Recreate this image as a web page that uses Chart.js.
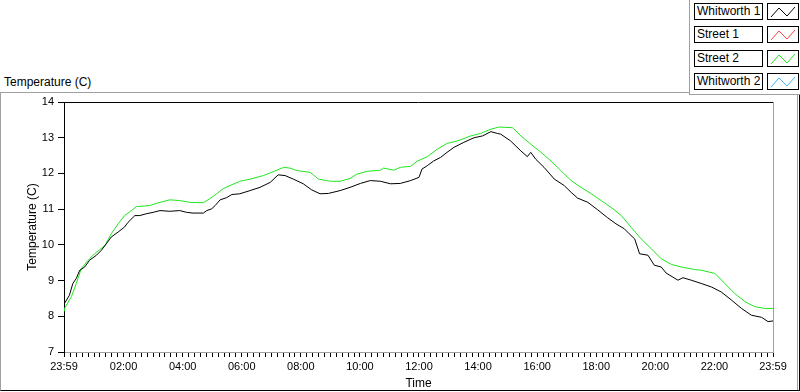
<!DOCTYPE html>
<html>
<head>
<meta charset="utf-8">
<script src="https://cdn.jsdelivr.net/npm/chart.js"></script>
<style>
  body { margin: 0; width: 800px; height: 392px; overflow: hidden; background: #fff; position: relative; font-family: "Liberation Sans", Arial, sans-serif; }
  .frame { position: absolute; left: 0; top: 92px; width: 800px; height: 299px; box-sizing: border-box;
           border-top: 1px solid #a0a0a0; border-left: 1px solid #a0a0a0; border-right: 1px solid #000; border-bottom: 1px solid #000; }
  .frame-inner { position: absolute; left: 797px; top: 95px; width: 1px; height: 295px; background: #a0a0a0; }
  .graph-title { position: absolute; left: 4px; top: 75px; font-size: 12px; line-height: 14px; color: #000; }
  .legend { position: absolute; left: 689px; top: 0; width: 111px; height: 95px; box-sizing: border-box; background: #fff;
            border-left: 1px solid #a0a0a0; border-bottom: 1px solid #a0a0a0; z-index: 2; }
  .legend .name { position: absolute; left: 4px; width: 69px; height: 17px; box-sizing: border-box; border: 1px solid #000;
                  font-size: 12px; line-height: 15px; padding-left: 2px; background: #fff; white-space: nowrap; }
  .legend svg { position: absolute; left: 77px; width: 32px; height: 17px; box-sizing: border-box; border: 1px solid #000; background: #fff; }
  canvas { position: absolute; left: 0; top: 0; z-index: 1; }
</style>
</head>
<body>
<div class="frame"></div>
<div class="frame-inner"></div>
<div class="graph-title">Temperature (C)</div>
<div class="legend" id="legend"></div>
<canvas id="tempChart" width="800" height="392"></canvas>
<script>
// series names and colours, in legend order
const seriesNames = ['Whitworth 1', 'Street 1', 'Street 2', 'Whitworth 2'];
const seriesColors = ['#000000', '#ff4040', '#1ee61e', '#3cb4ff'];

// time in minutes after midnight (-1 = 23:59 the day before)
const whitworth1Minutes = [-1,0,10,17,24,31,41,51,65,75,85,95,109,122,129,143,153,166,180,194,214,234,248,261,282,289,299,306,316,329,340,356,377,397,418,434,448,465,485,502,519,536,560,580,601,621,642,662,682,703,720,726,737,750,764,777,791,811,832,849,866,879,886,906,927,940,947,957,974,995,1015,1029,1042,1063,1083,1103,1120,1137,1147,1158,1168,1185,1198,1212,1222,1246,1256,1273,1293,1314,1334,1355,1375,1395,1416,1429,1439];
const whitworth1Temps = [8.31,8.36,8.59,8.92,9.06,9.29,9.38,9.57,9.71,9.85,10.03,10.22,10.36,10.50,10.63,10.82,10.82,10.87,10.91,10.96,10.94,10.96,10.91,10.89,10.89,10.96,11.01,11.10,11.26,11.32,11.41,11.43,11.52,11.61,11.75,11.96,11.94,11.84,11.71,11.54,11.43,11.44,11.52,11.61,11.72,11.80,11.78,11.71,11.72,11.80,11.89,12.12,12.22,12.35,12.45,12.59,12.73,12.87,13.00,13.05,13.17,13.12,13.10,12.91,12.63,12.47,12.59,12.40,12.17,11.84,11.66,11.47,11.31,11.19,10.98,10.76,10.59,10.45,10.31,10.17,9.75,9.71,9.43,9.38,9.21,9.01,9.08,9.01,8.92,8.82,8.68,8.45,8.22,8.03,7.97,7.85,7.87];

const street1Minutes = [];
const street1Temps = [];

const street2Minutes = [-1,0,14,24,34,48,61,71,82,95,109,122,136,146,173,194,214,234,255,282,295,309,322,336,356,377,404,424,445,458,472,499,516,540,560,580,594,615,642,648,669,682,703,716,737,757,777,798,825,845,866,883,910,927,947,967,988,1008,1029,1049,1070,1090,1110,1131,1151,1171,1192,1212,1233,1253,1280,1293,1321,1341,1361,1382,1402,1422,1439];
const street2Temps = [8.15,8.22,8.55,8.92,9.33,9.57,9.75,9.86,9.98,10.31,10.59,10.82,10.96,11.07,11.10,11.19,11.26,11.24,11.19,11.18,11.29,11.43,11.57,11.66,11.78,11.84,11.94,12.05,12.17,12.15,12.08,12.03,11.84,11.78,11.78,11.86,11.98,12.06,12.09,12.15,12.09,12.17,12.20,12.34,12.47,12.68,12.84,12.91,13.05,13.12,13.24,13.30,13.28,13.05,12.82,12.60,12.35,12.08,11.80,11.61,11.43,11.24,11.05,10.82,10.49,10.17,9.89,9.61,9.45,9.38,9.31,9.29,9.20,8.92,8.64,8.41,8.27,8.22,8.22];

const whitworth2Minutes = [];
const whitworth2Temps = [];

// axes
const xTickMinutes = [-1,120,240,360,480,600,720,840,960,1080,1200,1320,1439];
const xTickLabels = ['23:59','02:00','04:00','06:00','08:00','10:00','12:00','14:00','16:00','18:00','20:00','22:00','23:59'];
const xMinorStep = 12;
const yMin = 7, yMax = 14;

const allMinutes = [whitworth1Minutes, street1Minutes, street2Minutes, whitworth2Minutes];
const allTemps = [whitworth1Temps, street1Temps, street2Temps, whitworth2Temps];

function toPoints(mins, temps) {
    return mins.map((m, i) => ({ x: m, y: temps[i] }));
}

// legend, LabVIEW style
const legend = document.getElementById('legend');
seriesNames.forEach((name, i) => {
    const top = 3 + Math.round(i * 23.3);
    const label = document.createElement('div');
    label.className = 'name';
    label.style.top = top + 'px';
    label.textContent = name;
    legend.appendChild(label);
    const svg = document.createElementNS('http://www.w3.org/2000/svg', 'svg');
    svg.style.top = top + 'px';
    svg.innerHTML = '<polyline points="3,13 11,4 19,12 27,3" fill="none" stroke="' + seriesColors[i] + '" stroke-width="1"/>';
    legend.appendChild(svg);
});

// top and right edges of the plot frame
const plotFrame = {
    id: 'plotFrame',
    afterDraw(chart) {
        const { ctx, chartArea: a } = chart;
        ctx.save();
        ctx.lineWidth = 1;
        ctx.strokeStyle = '#000';
        ctx.beginPath();
        ctx.moveTo(a.left, a.top + 0.5);
        ctx.lineTo(a.right, a.top + 0.5);
        ctx.stroke();
        ctx.strokeStyle = '#a0a0a0';
        ctx.beginPath();
        ctx.moveTo(a.right + 0.5, a.top);
        ctx.lineTo(a.right + 0.5, a.bottom);
        ctx.stroke();
        ctx.restore();
    }
};

Chart.defaults.font.family = '"Liberation Sans", Arial, sans-serif';
Chart.defaults.font.size = 11;
Chart.defaults.color = '#000';

new Chart(document.getElementById('tempChart'), {
    type: 'line',
    data: {
        datasets: seriesNames.map((name, i) => ({
            label: name,
            data: toPoints(allMinutes[i], allTemps[i]),
            borderColor: seriesColors[i],
            borderWidth: 1,
            pointRadius: 0,
            tension: 0,
            fill: false
        }))
    },
    options: {
        responsive: false,
        animation: false,
        devicePixelRatio: 1,
        layout: { padding: { top: 102, right: 27, bottom: 0, left: 0 } },
        plugins: { legend: { display: false }, tooltip: { enabled: false } },
        scales: {
            x: {
                type: 'linear',
                min: xTickMinutes[0],
                max: xTickMinutes[xTickMinutes.length - 1],
                afterBuildTicks: (scale) => {
                    const vals = xTickMinutes.slice();
                    for (let m = xMinorStep; m < xTickMinutes[xTickMinutes.length - 1]; m += xMinorStep) {
                        if (!vals.includes(m)) vals.push(m);
                    }
                    vals.sort((a, b) => a - b);
                    scale.ticks = vals.map(v => ({ value: v }));
                },
                afterFit: (scale) => { scale.height = 40; },
                ticks: {
                    autoSkip: false,
                    maxRotation: 0,
                    padding: 3,
                    callback: (value) => {
                        const i = xTickMinutes.indexOf(value);
                        return i >= 0 ? xTickLabels[i] : '';
                    }
                },
                grid: { drawOnChartArea: false, tickLength: 5, tickColor: '#000', color: '#000' },
                border: { color: '#a0a0a0' },
                title: { display: true, text: 'Time', font: { size: 12 }, padding: { top: 0, bottom: 1 } }
            },
            y: {
                min: yMin,
                max: yMax,
                afterFit: (scale) => { scale.width = 64; },
                ticks: { stepSize: 1, padding: 4 },
                grid: { drawOnChartArea: false, tickLength: 6, tickColor: '#000', color: '#000' },
                border: { color: '#000' },
                title: { display: true, text: 'Temperature (C)', font: { size: 12 }, padding: { top: 25, bottom: 0 } }
            }
        }
    },
    plugins: [plotFrame]
});
</script>
</body>
</html>
